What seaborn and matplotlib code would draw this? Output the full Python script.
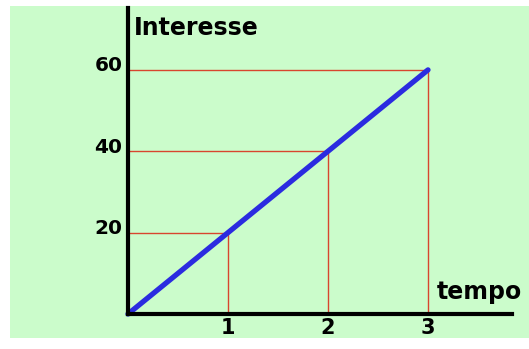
import matplotlib
matplotlib.use("Agg")
import matplotlib.pyplot as plt
import matplotlib.transforms as mtransforms
import seaborn as sns
import pandas as pd

# dados do gráfico
tempo = [0, 1, 2, 3]
interesse = [0, 20, 40, 60]
x_ticks = [1, 2, 3]
y_ticks = [20, 40, 60]

sns.set_style("white")
plt.rcParams['font.family'] = ['DejaVu Sans']
plt.rcParams['text.color'] = 'black'
plt.rcParams['xtick.color'] = 'black'
plt.rcParams['ytick.color'] = 'black'

verde = '#cbfccb'
azul = '#2b2be0'
vermelho = '#d8452e'

fig = plt.figure(figsize=(5.29, 3.49), dpi=100)
fig.patch.set_facecolor('white')
ax = fig.add_axes([10 / 529, 11 / 349, 519 / 529, 332 / 349])
ax.set_facecolor(verde)

# linhas guia vermelhas
pts_x = tempo[1:]
pts_y = interesse[1:]
ax.hlines(pts_y, 0, pts_x, color=vermelho, lw=1.0, zorder=2)
ax.vlines(pts_x, 0, pts_y, color=vermelho, lw=1.0, zorder=2)

# reta azul
df = pd.DataFrame({'tempo': tempo, 'interesse': interesse})
sns.lineplot(data=df, x='tempo', y='interesse', color=azul, lw=3.8, ax=ax, zorder=3)

ax.set_xlim(-1.18, 4.01)
ax.set_ylim(-5.9, 75.7)

# eixos
for s in ['top', 'right']:
    ax.spines[s].set_visible(False)
ax.spines['left'].set_position(('data', 0))
ax.spines['bottom'].set_position(('data', 0))
ax.spines['left'].set_bounds(0, 75.2)
ax.spines['bottom'].set_bounds(0, 3.84)
for s in ['left', 'bottom']:
    ax.spines[s].set_linewidth(3)
    ax.spines[s].set_color('black')
    ax.spines[s].set_zorder(4)

ax.set_xticks(x_ticks)
ax.set_yticks(y_ticks)
ax.set_xticklabels([str(v) for v in x_ticks], fontsize=15, fontweight='bold', color='black')
ax.set_yticklabels([str(v) for v in y_ticks], fontsize=14.5, fontweight='bold', color='black')
ax.tick_params(axis='both', length=0)
ax.tick_params(axis='x', pad=3)
ax.tick_params(axis='y', pad=4)
offset = mtransforms.ScaledTranslation(0, 6 / 100, fig.dpi_scale_trans)
for lbl in ax.get_yticklabels():
    lbl.set_transform(lbl.get_transform() + offset)

ax.set_xlabel('')
ax.set_ylabel('')

ax.text(0.06, 68.6, 'Interesse', fontsize=17, fontweight='bold', va='baseline', ha='left', color='black')
ax.text(3.09, 3.7, 'tempo', fontsize=17, fontweight='bold', va='baseline', ha='left', color='black')

fig.savefig('out.png', dpi=100)
